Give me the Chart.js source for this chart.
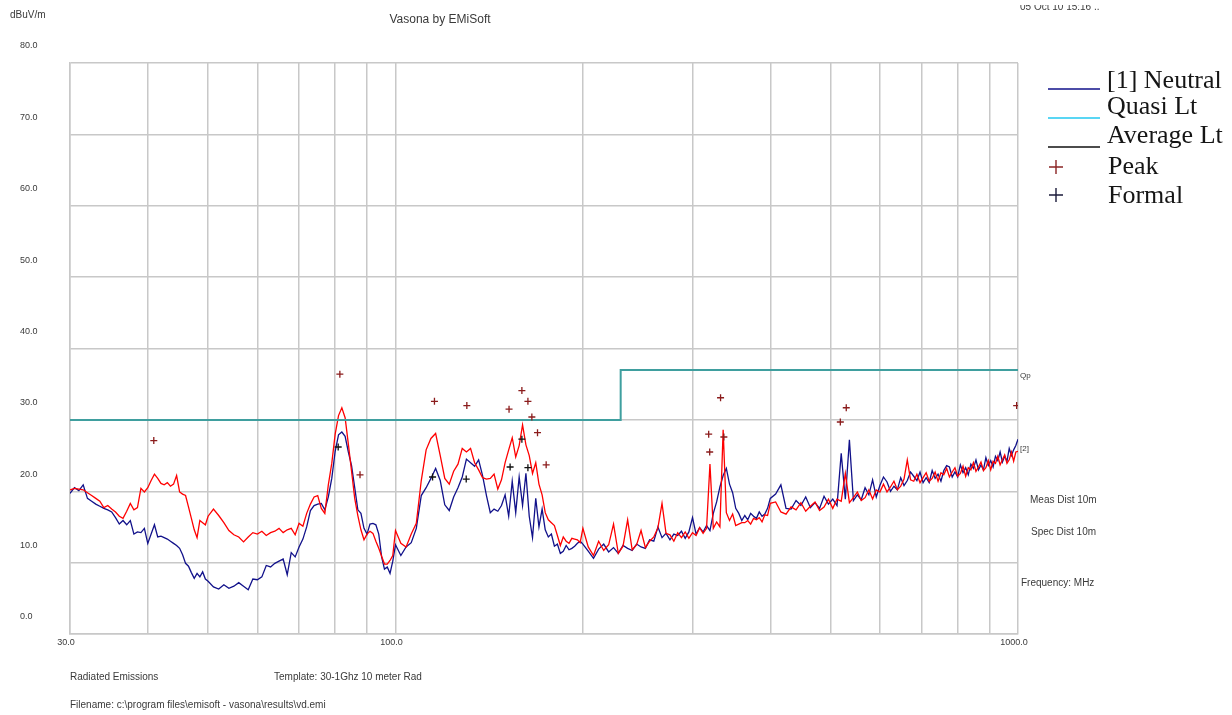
<!DOCTYPE html>
<html lang="en">
<head>
<meta charset="UTF-8">
<title>Radiated Emissions - Vasona</title>
<script src="https://cdn.jsdelivr.net/npm/chart.js"></script>
<style>
    html, body { margin: 0; padding: 0; background: #fff; }
    #wrap { width: 1232px; height: 715px; position: relative; }
</style>
</head>
<body>
<div id="wrap"><canvas id="emiChart"></canvas></div>
<script>
// sweep frequencies (MHz)
const sweepFreq = [
    30, 30.5, 31, 31.5, 32, 32.5, 33, 33.5, 34, 34.5,
    35, 35.5, 36, 36.5, 37, 37.5, 38, 38.5, 39, 39.5,
    40, 40.5, 41, 41.5, 42, 42.5, 43, 43.5, 44, 44.5,
    45, 45.5, 46, 46.5, 47, 47.5, 48, 48.5, 49, 49.5,
    50,
    51, 52, 53, 54, 55, 56, 57, 58, 59, 60,
    61, 62, 63, 64, 65, 66, 67, 68, 69, 70,
    71, 72, 73, 74, 75, 76, 77, 78, 79, 80,
    81, 82, 83, 84, 85, 86, 87, 88, 89, 90,
    91, 92, 93, 94, 95, 96, 97, 98, 99, 100,
    102, 104, 106, 108, 110, 112, 114, 116, 118, 120,
    122, 124, 126, 128, 130, 132, 134, 136, 138, 140,
    142, 144, 146, 148, 150, 152, 154, 156, 158, 160,
    162, 164, 166, 168, 170, 172, 174, 176, 178, 180,
    182, 184, 186, 188, 190, 192, 194, 196, 198, 200,
    204, 208, 212, 216, 220, 224, 228, 232, 236, 240,
    244, 248, 252, 256, 260, 264, 268, 272, 276, 280,
    284, 288, 292, 296, 300, 304, 308, 312, 316, 320,
    324, 328, 332, 336, 340, 344, 348, 352, 356, 360,
    364, 368, 372, 376, 380, 384, 388, 392, 396, 400,
    408, 416, 424, 432, 440, 448, 456, 464, 472, 480,
    488, 496, 504, 512, 520, 528, 536, 544, 552, 560,
    568, 576, 584, 592, 600, 608, 616, 624, 632, 640,
    648, 656, 664, 672, 680, 688, 696, 704, 712, 720,
    728, 736, 744, 752, 760, 768, 776, 784, 792, 800,
    808, 816, 824, 832, 840, 848, 856, 864, 872, 880,
    888, 896, 904, 912, 920, 928, 936, 944, 952, 960,
    968, 976, 984, 992, 1000
];

// [1] Neutral trace (dBuV/m)
const neutralLevel = [
    19.7, 20.5, 20.1, 20.9, 19.0, 18.6, 18.2, 17.9, 17.6, 17.4,
    17.1, 16.3, 15.4, 15.9, 15.3, 15.9, 14.0, 14.3, 14.2, 14.8,
    12.7, 14.0, 15.3, 13.6, 13.7, 13.5, 13.3, 13.0, 12.7, 12.4,
    12.0, 11.1, 9.9, 9.5, 8.6, 7.8, 8.5, 8.0, 8.7, 7.7,
    7.4,
    6.6, 6.3, 6.9, 6.4, 6.7, 7.2, 6.7, 6.2, 7.7, 7.6,
    8.0, 9.6, 9.4, 9.9, 10.2, 10.5, 8.3, 11.4, 10.8, 12.2,
    13.3, 15.0, 17.3, 18.0, 18.2, 18.3, 17.4, 19.2, 21.8, 25.6,
    27.9, 28.3, 27.7, 25.5, 23.6, 20.5, 17.4, 16.9, 14.8, 14.0,
    15.4, 15.5, 15.3, 14.0, 10.8, 9.1, 9.4, 8.5, 10.2, 12.5,
    11.0, 12.2, 12.8, 14.8, 19.4, 20.5, 21.8, 23.2, 21.5, 18.1,
    17.3, 19.2, 20.5, 22.0, 24.5, 24.0, 23.5, 24.4, 22.2, 19.4,
    17.0, 17.5, 17.2, 18.0, 19.5, 16.5, 21.4, 17.0, 22.0, 18.0,
    22.5, 16.5, 13.5, 19.0, 15.0, 17.5, 14.6, 13.6, 14.0, 12.3,
    12.6, 11.3, 11.6, 12.4, 11.8, 12.0, 12.3, 12.7, 13.0, 12.6,
    11.6, 10.6, 11.9, 12.6, 11.5, 12.1, 11.3, 12.4, 12.0, 11.7,
    12.6, 12.2, 12.0, 13.2, 13.0, 15.0, 13.5, 14.1, 13.2, 14.0,
    13.8, 14.4, 13.4, 14.3, 16.3, 14.0, 14.9, 14.3, 15.2, 14.5,
    16.9, 18.5, 20.6, 22.2, 23.2, 21.0, 19.8, 17.6, 16.9, 15.9,
    16.6, 16.0, 16.9, 16.5, 16.2, 17.1, 16.5, 16.8, 17.6, 19.0,
    19.6, 20.9, 17.6, 17.5, 18.7, 18.0, 19.2, 17.7, 18.4, 17.6,
    19.3, 18.2, 18.9, 18.0, 25.3, 18.9, 27.2, 18.7, 19.5, 18.8,
    20.5, 19.5, 21.6, 19.2, 20.8, 22.0, 21.3, 20.0, 20.7, 20.2,
    21.9, 20.8, 21.5, 22.7, 22.1, 21.5, 22.7, 21.2, 21.9, 21.2,
    22.9, 21.8, 22.4, 21.4, 22.9, 23.6, 23.4, 22.0, 22.7, 22.0,
    23.7, 22.6, 23.3, 22.3, 23.8, 23.2, 24.4, 23.0, 23.7, 23.0,
    24.7, 23.6, 24.3, 23.4, 24.9, 24.3, 25.5, 24.1, 24.9, 24.2,
    26.0, 25.0, 25.8, 26.4, 27.3
];

// [2] trace (dBuV/m)
const secondLevel = [
    20.2, 20.4, 20.3, 20.2, 19.8, 19.4, 19.0, 18.6, 17.7, 18.0,
    17.5, 17.1, 16.5, 16.2, 17.2, 18.3, 17.4, 17.7, 20.4, 19.9,
    20.5, 21.5, 22.4, 21.8, 21.1, 20.9, 21.2, 20.7, 21.0, 22.2,
    19.9, 19.6, 19.4, 17.8, 16.2, 14.6, 13.5, 15.9, 15.6, 15.3,
    16.5,
    17.5, 16.6, 15.6, 14.5, 13.9, 13.6, 12.9, 13.6, 14.2, 14.0,
    14.4, 13.8, 14.2, 14.4, 14.8, 14.2, 14.6, 14.8, 13.9, 15.5,
    15.1, 16.9, 18.2, 19.2, 19.4, 17.6, 16.9, 20.9, 23.9, 28.0,
    30.6, 31.7, 30.3, 26.6, 22.8, 19.0, 16.6, 14.6, 13.2, 14.0,
    14.4, 14.1, 13.0, 12.0, 10.9, 9.8, 9.8, 10.3, 11.0, 14.5,
    12.7, 12.2, 14.0, 15.5, 21.5, 25.8, 27.4, 28.1, 25.0, 21.8,
    21.0, 22.8, 23.8, 26.0, 25.5, 26.0, 24.0, 23.0, 21.9, 21.7,
    21.8, 22.4, 20.3, 21.6, 24.0, 25.8, 27.5, 24.8, 26.4, 29.3,
    26.5, 25.0, 22.5, 24.0, 21.0, 19.5, 17.0, 16.0, 15.6, 15.2,
    13.8, 12.4, 13.6, 13.0, 12.7, 13.4, 13.3, 13.2, 12.8, 14.8,
    12.2, 11.0, 13.0, 11.7, 12.5, 15.4, 11.3, 12.3, 16.0, 11.8,
    12.5, 14.5, 12.1, 13.0, 13.6, 14.9, 18.3, 14.1, 13.9, 13.0,
    14.2, 13.5, 14.3, 13.4, 14.2, 13.8, 14.9, 14.1, 14.8, 23.8,
    14.8, 15.7, 15.0, 28.6, 17.0, 15.9, 16.8, 15.2, 15.4, 15.6,
    15.6, 15.9, 15.4, 16.2, 16.0, 16.3, 15.7, 16.7, 16.6, 18.3,
    18.5, 17.1, 16.8, 17.8, 17.4, 18.4, 17.2, 17.9, 18.5, 17.3,
    17.8, 18.9, 17.6, 18.9, 18.6, 22.5, 18.4, 19.1, 19.9, 18.7,
    19.1, 20.2, 18.9, 20.2, 19.9, 21.0, 19.9, 20.6, 21.4, 20.2,
    20.7, 21.7, 24.4, 21.6, 21.4, 22.4, 21.2, 21.9, 22.6, 21.4,
    21.8, 22.7, 21.4, 22.6, 22.3, 23.2, 22.0, 22.7, 23.3, 22.1,
    22.5, 23.5, 22.1, 23.3, 23.0, 24.0, 22.8, 23.4, 24.1, 22.9,
    23.3, 24.3, 23.0, 24.2, 23.9, 24.9, 23.7, 24.4, 25.1, 23.9,
    24.4, 25.5, 24.2, 25.5, 25.6
];

// quasi-peak limit, 10 m
const limitFreq = [30, 230, 230, 1000];
const limitLevel = [30, 30, 37, 37];

// peak and formal readings
const peakFreq = [40.9, 81.4, 87.7, 115.5, 130.2, 152.2, 159.6, 163.2, 165.6, 169.1, 174.6, 318.5, 319.7, 332.8, 336.9, 518.3, 529.8, 995];
const peakLevel = [27.1, 36.4, 22.3, 32.6, 32.0, 31.5, 34.1, 32.6, 30.4, 28.2, 23.7, 28.0, 25.5, 33.1, 27.6, 29.7, 31.7, 32.0];
const formalFreq = [80.9, 114.7, 129.9, 152.8, 159.6, 163.2];
const formalLevel = [26.2, 22.0, 21.7, 23.4, 27.3, 23.3];

// axis grid and labels
const gridFreq = [30, 40, 50, 60, 70, 80, 90, 100, 200, 300, 400, 500, 600, 700, 800, 900, 1000];
const labelFreq = [30, 100, 1000];

const NAVY = '#11118a';
const RED = '#ff0000';
const TEAL = '#3f9f9f';
const GRID = '#c8c8c8';
const TEXT = '#3a3a3a';

const pairs = (xs, ys) => xs.map((x, i) => ({ x: x, y: ys[i] }));

// header, footer, side notes and the legend block
const notesPlugin = {
    id: 'notes',
    afterDraw(chart) {
        const ctx = chart.ctx;
        ctx.save();
        ctx.fillStyle = TEXT;
        ctx.textBaseline = 'middle';

        ctx.font = '10px "Liberation Sans"';
        ctx.textAlign = 'left';
        ctx.fillText('dBuV/m', 10, 15);

        // run date, top edge clipped by the page header
        ctx.save();
        ctx.beginPath();
        ctx.rect(1000, 5, 232, 10);
        ctx.clip();
        ctx.textBaseline = 'alphabetic';
        ctx.fillText('05 Oct 10 15:16 ..', 1020, 10);
        ctx.restore();

        ctx.font = '12px "Liberation Sans"';
        ctx.textAlign = 'center';
        ctx.fillText('Vasona by EMiSoft', 440, 20);

        ctx.textAlign = 'left';
        ctx.font = '8px "Liberation Sans"';
        ctx.fillText('Qp', 1020, 376);
        ctx.fillText('[2]', 1020, 449);

        ctx.font = '10px "Liberation Sans"';
        ctx.fillText('Meas Dist 10m', 1030, 500);
        ctx.fillText('Spec Dist 10m', 1031, 532);
        ctx.fillText('Frequency: MHz', 1021, 583);

        ctx.fillText('Radiated Emissions', 70, 677);
        ctx.fillText('Template: 30-1Ghz 10 meter Rad', 274, 677);
        ctx.fillText('Filename: c:\\program files\\emisoft - vasona\\results\\vd.emi', 70, 705);

        // legend
        const lines = [
            { color: NAVY, y: 89 },
            { color: '#22c8f0', y: 118 },
            { color: '#111111', y: 147 }
        ];
        ctx.lineWidth = 1.6;
        lines.forEach(l => {
            ctx.strokeStyle = l.color;
            ctx.beginPath();
            ctx.moveTo(1048, l.y);
            ctx.lineTo(1100, l.y);
            ctx.stroke();
        });
        const crosses = [
            { color: '#8b2424', y: 167 },
            { color: '#1a1a3a', y: 195 }
        ];
        ctx.lineWidth = 1.4;
        crosses.forEach(c => {
            ctx.strokeStyle = c.color;
            ctx.beginPath();
            ctx.moveTo(1049, c.y);
            ctx.lineTo(1063, c.y);
            ctx.moveTo(1056, c.y - 7);
            ctx.lineTo(1056, c.y + 7);
            ctx.stroke();
        });

        ctx.fillStyle = '#151515';
        ctx.font = '26px "Liberation Serif"';
        ctx.textBaseline = 'alphabetic';
        ctx.fillText('[1] Neutral', 1107, 88);
        ctx.fillText('Quasi Lt', 1107, 114);
        ctx.fillText('Average Lt', 1107, 143);
        ctx.fillText('Peak', 1108, 174);
        ctx.fillText('Formal', 1108, 203);
        ctx.restore();
    }
};

new Chart(document.getElementById('emiChart'), {
    type: 'line',
    data: {
        datasets: [
            {
                label: 'Peak',
                data: pairs(peakFreq, peakLevel),
                showLine: false,
                pointStyle: 'cross',
                pointRadius: 3.5,
                borderColor: '#8b1c1c',
                borderWidth: 1.3,
                order: 0
            },
            {
                label: 'Formal',
                data: pairs(formalFreq, formalLevel),
                showLine: false,
                pointStyle: 'cross',
                pointRadius: 3.5,
                borderColor: '#111111',
                borderWidth: 1.3,
                order: 1
            },
            {
                label: 'Quasi Lt',
                data: pairs(limitFreq, limitLevel),
                borderColor: TEAL,
                borderWidth: 2,
                pointRadius: 0,
                order: 2
            },
            {
                label: '[2]',
                data: pairs(sweepFreq, secondLevel),
                borderColor: RED,
                borderWidth: 1.3,
                pointRadius: 0,
                order: 3
            },
            {
                label: '[1] Neutral',
                data: pairs(sweepFreq, neutralLevel),
                borderColor: NAVY,
                borderWidth: 1.3,
                pointRadius: 0,
                order: 4
            }
        ]
    },
    options: {
        responsive: true,
        maintainAspectRatio: false,
        animation: false,
        events: [],
        layout: {
            padding: { left: 20, top: 63, right: 214, bottom: 0 }
        },
        plugins: {
            legend: { display: false },
            tooltip: { enabled: false }
        },
        scales: {
            x: {
                type: 'logarithmic',
                min: 30,
                max: 1000,
                afterBuildTicks: scale => {
                    scale.ticks = gridFreq.map(v => ({ value: v }));
                },
                afterFit: scale => { scale.height = 81; },
                grid: { color: GRID, lineWidth: 1.5, drawTicks: false },
                border: { color: GRID, width: 1.5 },
                ticks: {
                    autoSkip: false,
                    maxRotation: 0,
                    padding: 3,
                    labelOffset: -4,
                    color: TEXT,
                    font: { family: 'Liberation Sans', size: 9 },
                    callback: v => labelFreq.includes(v) ? v.toFixed(1) : ''
                }
            },
            y: {
                min: 0,
                max: 80,
                afterFit: scale => { scale.width = 50; },
                grid: { color: GRID, lineWidth: 1.5, drawTicks: false },
                border: { color: GRID, width: 1.5 },
                ticks: {
                    stepSize: 10,
                    crossAlign: 'far',
                    labelOffset: -17,
                    color: TEXT,
                    font: { family: 'Liberation Sans', size: 9 },
                    callback: v => v.toFixed(1)
                }
            }
        }
    },
    plugins: [notesPlugin]
});
</script>
</body>
</html>
